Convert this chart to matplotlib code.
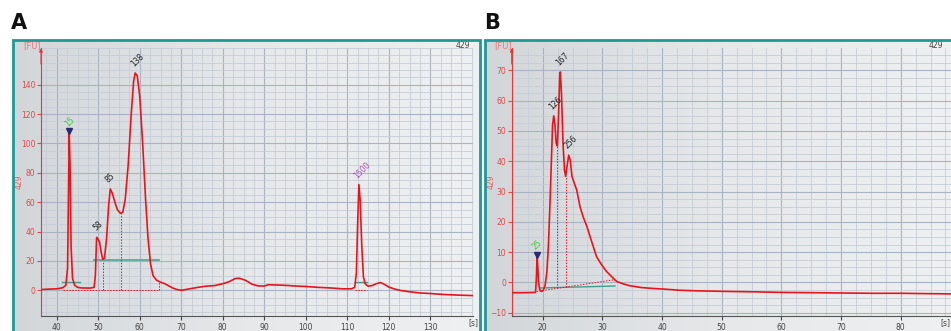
import numpy as np
import matplotlib
matplotlib.use("Agg")
import matplotlib.pyplot as plt
from matplotlib.patches import Rectangle
from matplotlib.ticker import MultipleLocator, FixedLocator

# --- panel A electropherogram (time [s], fluorescence [FU]) ---
a_t = [36.2, 38, 40, 41.5, 42.2, 42.6, 42.85, 43.0, 43.2, 43.45, 43.8, 44.3, 45, 46, 48, 49.0,
       49.3, 49.6, 49.9, 50.3, 50.7, 51.1, 51.5, 52.0, 52.5, 52.9, 53.4, 54.0, 54.6, 55.3, 55.9,
       56.5, 57.2, 57.9, 58.5, 58.9, 59.4, 60.0, 60.7, 61.4, 62.0, 62.6, 63.2, 64.0, 65.0, 66.0,
       67.0, 68.0, 69.0, 70.0, 72, 74, 76, 78, 80, 81.5, 83, 84, 85.5, 87, 88.5, 90, 91, 93,
       95, 97, 100, 103, 106, 109, 111.0, 111.8, 112.2, 112.5, 112.8, 113.1, 113.5, 113.9, 114.3,
       115.0, 116.0, 117.0, 118.0, 119.0, 120.0, 121.5, 123, 125, 127.5, 130, 133, 136, 140.3]
a_fu = [0.5, 0.8, 1.0, 1.8, 3.5, 15, 70, 107, 85, 30, 8, 3.5, 2.0, 1.6, 1.5, 2.0,
        10, 36, 35, 33, 26, 21, 22, 35, 58, 69, 66, 60, 55, 52.5, 53,
        62, 85, 118, 142, 148, 146, 132, 100, 62, 35, 18, 10, 7, 5.5, 4.5,
        3.0, 1.5, 0.5, 0.0, 1.0, 2.0, 2.8, 3.2, 4.5, 5.8, 8.0, 8.2, 6.8, 4.2, 3.0, 2.9, 3.8, 3.6,
        3.4, 3.0, 2.6, 2.0, 1.6, 1.0, 1.0, 2.0, 12, 45, 72, 62, 30, 9, 4.5,
        2.8, 3.2, 4.5, 5.3, 4.0, 2.2, 0.8, -0.2, -1.0, -1.8, -2.2, -2.8, -3.2, -3.6]

# --- panel B electropherogram ---
b_t = [14.8, 17, 18.8, 18.95, 19.05, 19.15, 19.3, 19.5, 19.8, 20.1, 20.4, 20.7, 20.95, 21.2,
       21.45, 21.65, 21.85, 22.05, 22.25, 22.45, 22.65, 22.85, 22.95, 23.15, 23.4, 23.65, 23.85,
       24.05, 24.35, 24.6, 24.9, 25.3, 25.7, 26.25, 26.8, 27.4, 28.2, 29.0, 29.8, 30.7, 31.5,
       32.4, 33.5, 34.6, 36.5, 38.5, 40.2, 43, 46, 51.4, 55, 60, 65.3, 70, 75, 80, 84, 88.4]
b_fu = [-3.4, -3.4, -3.3, 2.0, 8.6, 6.0, 0.0, -2.5, -3.0, -2.6, -1.0, 3.5, 12, 25,
        40, 52, 55, 52, 46, 45, 55, 68, 69.5, 62, 46, 37, 35,
        38, 42, 40.5, 35, 32.7, 30.5, 25, 21.5, 18.5, 13.5, 8.6, 6.0, 3.6, 2.0,
        0.3, -0.5, -1.1, -1.7, -2.0, -2.2, -2.6, -2.8, -3.0, -3.1, -3.3, -3.4, -3.5, -3.6, -3.6, -3.7, -3.8]

# tick values shown on each panel
a_xticks = [40, 50, 60, 70, 80, 90, 100, 110, 120, 130]
a_yticks = [0, 20, 40, 60, 80, 100, 120, 140]
b_xticks = [20, 30, 40, 50, 60, 70, 80]
b_yticks = [-10, 0, 10, 20, 30, 40, 50, 60, 70]

# peak labels: (time, FU, text, colour)
a_peaks = [(43.0, 107, "15", "#3cc83c"), (49.9, 36.5, "58", "#222222"),
           (52.9, 69, "85", "#222222"), (58.9, 148, "138", "#222222"),
           (112.8, 72, "1500", "#b050c0")]
b_peaks = [(19.1, 8.6, "25", "#3cc83c"), (21.85, 55, "126", "#222222"),
           (22.95, 69.5, "167", "#222222"), (24.35, 42, "256", "#222222")]

RED = "#e8141c"
TEAL = "#1c9a98"
W, H = 951, 331


def fx(px):
    return px / W


def fy(py):
    return 1 - py / H


fig = plt.figure(figsize=(W / 100, H / 100), dpi=100)


def frame(x0, x1):
    # grey gradient panel with teal border
    bg = fig.add_axes([fx(x0), 0, fx(x1 - x0), fy(40)])
    grad = np.linspace(0, 1, 256)[None, :]
    cm = matplotlib.colors.LinearSegmentedColormap.from_list("g", ["#d3d6d9", "#e6e8ea", "#eff0f1"])
    bg.imshow(grad, aspect="auto", cmap=cm, extent=[0, 1, 0, 1])
    bg.set_axis_off()
    fig.patches.append(Rectangle((fx(x0), -0.05), fx(x1 - x0), fy(40) + 0.05,
                                 transform=fig.transFigure, fill=False,
                                 edgecolor=TEAL, lw=2, zorder=5))


frame(12.5, 480)
frame(485, 960)


def panel(left, right, xlim, ylim, xt, yt, ymin, t, fu, peaks):
    ax = fig.add_axes([fx(left), fy(316), fx(right - left), fy(48) - fy(316)])
    ax.set_facecolor("none")
    ax.plot(t, fu, color=RED, lw=1.2, zorder=3)
    ax.set_xlim(*xlim)
    ax.set_ylim(*ylim)
    ax.xaxis.set_major_locator(FixedLocator(xt))
    ax.xaxis.set_minor_locator(MultipleLocator(2.5))
    ax.yaxis.set_major_locator(FixedLocator(yt))
    ax.yaxis.set_minor_locator(MultipleLocator(ymin))
    ax.grid(which="major", color="#a8b3c3", lw=0.8)
    ax.grid(which="minor", color="#c6cdd7", lw=0.6)
    ax.set_axisbelow(True)
    for s in ("top", "right"):
        ax.spines[s].set_visible(False)
    ax.spines["left"].set_color("#e03a3a")
    ax.spines["bottom"].set_color("#555555")
    ax.tick_params(axis="y", which="major", colors="#e04848", labelsize=5.5, length=3, pad=1)
    ax.tick_params(axis="x", which="major", colors="#444444", labelsize=5.5, length=3, pad=2)
    ax.tick_params(which="minor", length=0)
    ax.annotate("", xy=(0, 1.01), xytext=(0, 0.93), xycoords="axes fraction",
                arrowprops=dict(arrowstyle="-|>", color="#e03a3a", lw=0.8, mutation_scale=5))
    span = ylim[1] - ylim[0]
    for x, y, s, c in peaks:
        if c == "#3cc83c":
            ax.plot([x], [y + 1.2 * span / 180], marker="v", color="#2a2a70", ms=4, zorder=4)
        ax.text(x, y + 3.0 * span / 180, s, rotation=45, color=c,
                fontsize=5.5, ha="left", va="bottom", rotation_mode="anchor", zorder=4)
    return ax


ax_a = panel(41, 473, (36.2, 140.3), (-17.5, 165), a_xticks, a_yticks, 5, a_t, a_fu, a_peaks)
ax_b = panel(511.7, 955, (14.8, 89.1), (-11.1, 77.4), b_xticks, b_yticks, 2.5, b_t, b_fu, b_peaks)

# panel A integration marks
dots = (0, (1.5, 1.5))
ax_a.plot([41.3, 45.6], [5.5, 5.5], color="#3f9e8e", lw=1.0, zorder=2)
ax_a.plot([49.0, 64.6], [20.5, 20.5], color="#5aa8a0", lw=1.3, zorder=2)
ax_a.plot([41.5, 64.6], [0, 0], color=RED, lw=0.7, ls=dots, zorder=2)
ax_a.plot([51.2, 51.2], [0, 20], color=RED, lw=0.7, ls=dots, zorder=2)
ax_a.plot([55.4, 55.4], [0, 52.5], color=RED, lw=0.7, ls=dots, zorder=2)
ax_a.plot([64.6, 64.6], [0, 6.5], color=RED, lw=0.7, ls=dots, zorder=2)
ax_a.plot([111.9, 114.8], [5.5, 5.5], color="#3f9e8e", lw=1.0, zorder=2)
ax_a.plot([111.9, 114.8], [0, 0], color=RED, lw=0.7, ls=dots, zorder=2)

# panel B integration marks
ax_b.plot([19.5, 32.1], [-1.85, -1.2], color="#3f9e8e", lw=1.0, zorder=2)
ax_b.plot([19.0, 32.1], [-3.0, 0.9], color=RED, lw=0.7, ls=dots, zorder=2)
ax_b.plot([22.35, 22.35], [-2.0, 45], color=RED, lw=0.7, ls=dots, zorder=2)
ax_b.plot([23.85, 23.85], [-1.5, 35], color=RED, lw=0.7, ls=dots, zorder=2)

# decorations
for x0, xl, xs, xr in ((23, 19, 468, 470), (494, 491, 940, 943)):
    fig.text(fx(x0), fy(46), "[FU]", color="#e87878", fontsize=6, va="center")
    fig.text(fx(xl), fy(182), "429", color="#e06060", fontsize=5.5, rotation=90,
             ha="center", va="center")
    fig.text(fx(xs), fy(323), "[s]", color="#444444", fontsize=5.5, ha="left", va="center")
    fig.text(fx(xr), fy(46), "429", color="#444444", fontsize=5.5, ha="right", va="center")

fig.text(fx(11), fy(29), "A", fontsize=15, fontweight="bold", color="#111111")
fig.text(fx(484), fy(29), "B", fontsize=15, fontweight="bold", color="#111111")

fig.savefig("out.png", dpi=100)
